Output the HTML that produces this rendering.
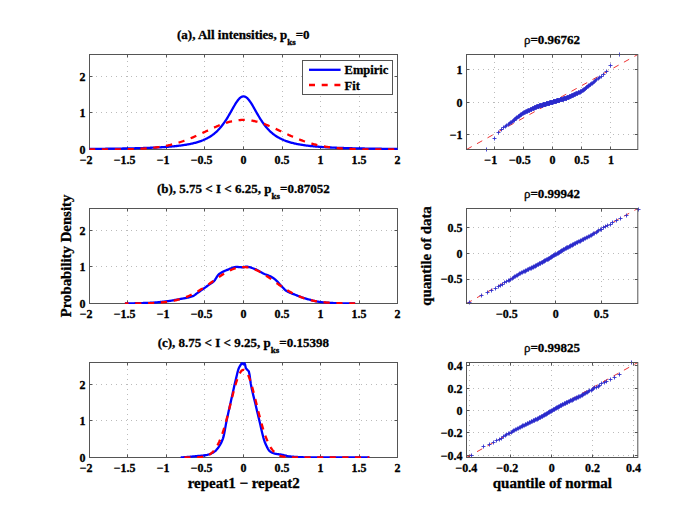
<!DOCTYPE html>
<html><head><meta charset="utf-8"><style>
html,body{margin:0;padding:0;background:#fff;}
svg{display:block;font-family:"Liberation Serif",serif;} text{stroke:#000;stroke-width:0.3px;}
</style></head><body>
<svg width="685" height="514" viewBox="0 0 685 514">
<rect width="685" height="514" fill="#fff"/>
<defs><clipPath id="cl0"><rect x="89.0" y="52.5" width="309.0" height="97.5"/></clipPath><clipPath id="cl1"><rect x="89.0" y="206.5" width="309.0" height="97.5"/></clipPath><clipPath id="cl2"><rect x="89.0" y="360.5" width="309.0" height="97.5"/></clipPath><clipPath id="cr0"><rect x="466.5" y="54.5" width="171.29999999999995" height="95.0"/></clipPath><clipPath id="cr1"><rect x="466.5" y="208.5" width="171.29999999999995" height="95.0"/></clipPath><clipPath id="cr2"><rect x="466.5" y="362.5" width="171.29999999999995" height="95.0"/></clipPath></defs>
<line x1="127.5" y1="149" x2="127.5" y2="55" stroke="#bbb" stroke-width="1" stroke-dasharray="1 4" stroke-dashoffset="-2"/>
<line x1="166.5" y1="149" x2="166.5" y2="55" stroke="#bbb" stroke-width="1" stroke-dasharray="1 4" stroke-dashoffset="-2"/>
<line x1="204.5" y1="149" x2="204.5" y2="55" stroke="#bbb" stroke-width="1" stroke-dasharray="1 4" stroke-dashoffset="-2"/>
<line x1="243.5" y1="149" x2="243.5" y2="55" stroke="#bbb" stroke-width="1" stroke-dasharray="1 4" stroke-dashoffset="-2"/>
<line x1="282.5" y1="149" x2="282.5" y2="55" stroke="#bbb" stroke-width="1" stroke-dasharray="1 4" stroke-dashoffset="-2"/>
<line x1="320.5" y1="149" x2="320.5" y2="55" stroke="#bbb" stroke-width="1" stroke-dasharray="1 4" stroke-dashoffset="-2"/>
<line x1="359.5" y1="149" x2="359.5" y2="55" stroke="#bbb" stroke-width="1" stroke-dasharray="1 4" stroke-dashoffset="-2"/>
<line x1="90" y1="112.5" x2="397" y2="112.5" stroke="#bbb" stroke-width="1" stroke-dasharray="1 4" stroke-dashoffset="-1"/>
<line x1="90" y1="76.5" x2="397" y2="76.5" stroke="#bbb" stroke-width="1" stroke-dasharray="1 4" stroke-dashoffset="-1"/>
<path d="M127.5 149.5v-3M127.5 54.5v3M166.5 149.5v-3M166.5 54.5v3M204.5 149.5v-3M204.5 54.5v3M243.5 149.5v-3M243.5 54.5v3M282.5 149.5v-3M282.5 54.5v3M320.5 149.5v-3M320.5 54.5v3M359.5 149.5v-3M359.5 54.5v3M89.5 112.5h3M397.5 112.5h-3M89.5 76.5h3M397.5 76.5h-3" stroke="#555" stroke-width="1" fill="none"/>
<text x="89.5" y="163.9" font-size="12" text-anchor="middle" font-weight="bold" >2</text>
<text x="86.5" y="163.9" font-size="12" text-anchor="end" font-weight="bold" >−</text>
<text x="128" y="163.9" font-size="12" text-anchor="middle" font-weight="bold" >1.5</text>
<text x="120.5" y="163.9" font-size="12" text-anchor="end" font-weight="bold" >−</text>
<text x="166.5" y="163.9" font-size="12" text-anchor="middle" font-weight="bold" >1</text>
<text x="163.5" y="163.9" font-size="12" text-anchor="end" font-weight="bold" >−</text>
<text x="205" y="163.9" font-size="12" text-anchor="middle" font-weight="bold" >0.5</text>
<text x="197.5" y="163.9" font-size="12" text-anchor="end" font-weight="bold" >−</text>
<text x="243.5" y="163.9" font-size="12" text-anchor="middle" font-weight="bold" >0</text>
<text x="282" y="163.9" font-size="12" text-anchor="middle" font-weight="bold" >0.5</text>
<text x="320.5" y="163.9" font-size="12" text-anchor="middle" font-weight="bold" >1</text>
<text x="359" y="163.9" font-size="12" text-anchor="middle" font-weight="bold" >1.5</text>
<text x="397.5" y="163.9" font-size="12" text-anchor="middle" font-weight="bold" >2</text>
<text x="85.5" y="153.9" font-size="12" text-anchor="end" font-weight="bold" >0</text>
<text x="85.5" y="117.36" font-size="12" text-anchor="end" font-weight="bold" >1</text>
<text x="85.5" y="80.82" font-size="12" text-anchor="end" font-weight="bold" >2</text>
<rect x="89.5" y="54.5" width="308" height="95" fill="none" stroke="#555" stroke-width="1"/>
<path d="M89.5 148.93 L90.27 148.92 L91.04 148.92 L91.82 148.91 L92.59 148.9 L93.36 148.9 L94.13 148.89 L94.9 148.88 L95.68 148.88 L96.45 148.87 L97.22 148.86 L97.99 148.85 L98.76 148.85 L99.54 148.84 L100.31 148.83 L101.08 148.82 L101.85 148.81 L102.62 148.81 L103.39 148.8 L104.17 148.79 L104.94 148.78 L105.71 148.77 L106.48 148.76 L107.25 148.75 L108.03 148.74 L108.8 148.73 L109.57 148.72 L110.34 148.71 L111.11 148.7 L111.89 148.69 L112.66 148.68 L113.43 148.67 L114.2 148.66 L114.97 148.65 L115.75 148.64 L116.52 148.62 L117.29 148.61 L118.06 148.6 L118.83 148.59 L119.61 148.58 L120.38 148.56 L121.15 148.55 L121.92 148.54 L122.69 148.52 L123.46 148.51 L124.24 148.49 L125.01 148.48 L125.78 148.46 L126.55 148.45 L127.32 148.43 L128.1 148.42 L128.87 148.4 L129.64 148.39 L130.41 148.37 L131.18 148.35 L131.96 148.33 L132.73 148.32 L133.5 148.3 L134.27 148.28 L135.04 148.26 L135.82 148.24 L136.59 148.22 L137.36 148.2 L138.13 148.18 L138.9 148.16 L139.68 148.13 L140.45 148.11 L141.22 148.09 L141.99 148.07 L142.76 148.04 L143.54 148.02 L144.31 147.99 L145.08 147.97 L145.85 147.94 L146.62 147.91 L147.39 147.88 L148.17 147.86 L148.94 147.83 L149.71 147.8 L150.48 147.76 L151.25 147.73 L152.03 147.7 L152.8 147.67 L153.57 147.63 L154.34 147.6 L155.11 147.56 L155.89 147.52 L156.66 147.49 L157.43 147.45 L158.2 147.41 L158.97 147.37 L159.75 147.32 L160.52 147.28 L161.29 147.24 L162.06 147.19 L162.83 147.14 L163.61 147.09 L164.38 147.04 L165.15 146.99 L165.92 146.94 L166.69 146.88 L167.46 146.83 L168.24 146.77 L169.01 146.71 L169.78 146.65 L170.55 146.58 L171.32 146.51 L172.1 146.45 L172.87 146.38 L173.64 146.3 L174.41 146.23 L175.18 146.15 L175.96 146.07 L176.73 145.99 L177.5 145.9 L178.27 145.81 L179.04 145.72 L179.82 145.63 L180.59 145.53 L181.36 145.43 L182.13 145.32 L182.9 145.21 L183.68 145.1 L184.45 144.98 L185.22 144.86 L185.99 144.74 L186.76 144.61 L187.54 144.47 L188.31 144.33 L189.08 144.18 L189.85 144.03 L190.62 143.87 L191.39 143.71 L192.17 143.54 L192.94 143.36 L193.71 143.17 L194.48 142.98 L195.25 142.78 L196.03 142.57 L196.8 142.35 L197.57 142.12 L198.34 141.88 L199.11 141.63 L199.89 141.37 L200.66 141.1 L201.43 140.82 L202.2 140.52 L202.97 140.22 L203.75 139.89 L204.52 139.55 L205.29 139.2 L206.06 138.83 L206.83 138.44 L207.61 138.03 L208.38 137.61 L209.15 137.16 L209.92 136.69 L210.69 136.2 L211.46 135.69 L212.24 135.15 L213.01 134.58 L213.78 133.99 L214.55 133.37 L215.32 132.72 L216.1 132.03 L216.87 131.32 L217.64 130.57 L218.41 129.78 L219.18 128.96 L219.96 128.1 L220.73 127.2 L221.5 126.26 L222.27 125.28 L223.04 124.26 L223.82 123.19 L224.59 122.09 L225.36 120.95 L226.13 119.76 L226.9 118.54 L227.68 117.28 L228.45 116 L229.22 114.68 L229.99 113.34 L230.76 111.98 L231.54 110.61 L232.31 109.24 L233.08 107.88 L233.85 106.54 L234.62 105.22 L235.39 103.95 L236.17 102.73 L236.94 101.58 L237.71 100.51 L238.48 99.54 L239.25 98.68 L240.03 97.94 L240.8 97.33 L241.57 96.86 L242.34 96.55 L243.11 96.39 L243.89 96.39 L244.66 96.55 L245.43 96.86 L246.2 97.33 L246.97 97.94 L247.75 98.68 L248.52 99.54 L249.29 100.51 L250.06 101.58 L250.83 102.73 L251.61 103.95 L252.38 105.22 L253.15 106.54 L253.92 107.88 L254.69 109.24 L255.46 110.61 L256.24 111.98 L257.01 113.34 L257.78 114.68 L258.55 116 L259.32 117.28 L260.1 118.54 L260.87 119.76 L261.64 120.95 L262.41 122.09 L263.18 123.19 L263.96 124.26 L264.73 125.28 L265.5 126.26 L266.27 127.2 L267.04 128.1 L267.82 128.96 L268.59 129.78 L269.36 130.57 L270.13 131.32 L270.9 132.03 L271.68 132.72 L272.45 133.37 L273.22 133.99 L273.99 134.58 L274.76 135.15 L275.54 135.69 L276.31 136.2 L277.08 136.69 L277.85 137.16 L278.62 137.61 L279.39 138.03 L280.17 138.44 L280.94 138.83 L281.71 139.2 L282.48 139.55 L283.25 139.89 L284.03 140.22 L284.8 140.52 L285.57 140.82 L286.34 141.1 L287.11 141.37 L287.89 141.63 L288.66 141.88 L289.43 142.12 L290.2 142.35 L290.97 142.57 L291.75 142.78 L292.52 142.98 L293.29 143.17 L294.06 143.36 L294.83 143.54 L295.61 143.71 L296.38 143.87 L297.15 144.03 L297.92 144.18 L298.69 144.33 L299.46 144.47 L300.24 144.61 L301.01 144.74 L301.78 144.86 L302.55 144.98 L303.32 145.1 L304.1 145.21 L304.87 145.32 L305.64 145.43 L306.41 145.53 L307.18 145.63 L307.96 145.72 L308.73 145.81 L309.5 145.9 L310.27 145.99 L311.04 146.07 L311.82 146.15 L312.59 146.23 L313.36 146.3 L314.13 146.38 L314.9 146.45 L315.68 146.51 L316.45 146.58 L317.22 146.65 L317.99 146.71 L318.76 146.77 L319.54 146.83 L320.31 146.88 L321.08 146.94 L321.85 146.99 L322.62 147.04 L323.39 147.09 L324.17 147.14 L324.94 147.19 L325.71 147.24 L326.48 147.28 L327.25 147.32 L328.03 147.37 L328.8 147.41 L329.57 147.45 L330.34 147.49 L331.11 147.52 L331.89 147.56 L332.66 147.6 L333.43 147.63 L334.2 147.67 L334.97 147.7 L335.75 147.73 L336.52 147.76 L337.29 147.8 L338.06 147.83 L338.83 147.86 L339.61 147.88 L340.38 147.91 L341.15 147.94 L341.92 147.97 L342.69 147.99 L343.46 148.02 L344.24 148.04 L345.01 148.07 L345.78 148.09 L346.55 148.11 L347.32 148.13 L348.1 148.16 L348.87 148.18 L349.64 148.2 L350.41 148.22 L351.18 148.24 L351.96 148.26 L352.73 148.28 L353.5 148.3 L354.27 148.32 L355.04 148.33 L355.82 148.35 L356.59 148.37 L357.36 148.39 L358.13 148.4 L358.9 148.42 L359.68 148.43 L360.45 148.45 L361.22 148.46 L361.99 148.48 L362.76 148.49 L363.54 148.51 L364.31 148.52 L365.08 148.54 L365.85 148.55 L366.62 148.56 L367.39 148.58 L368.17 148.59 L368.94 148.6 L369.71 148.61 L370.48 148.62 L371.25 148.64 L372.03 148.65 L372.8 148.66 L373.57 148.67 L374.34 148.68 L375.11 148.69 L375.89 148.7 L376.66 148.71 L377.43 148.72 L378.2 148.73 L378.97 148.74 L379.75 148.75 L380.52 148.76 L381.29 148.77 L382.06 148.78 L382.83 148.79 L383.61 148.8 L384.38 148.81 L385.15 148.81 L385.92 148.82 L386.69 148.83 L387.46 148.84 L388.24 148.85 L389.01 148.85 L389.78 148.86 L390.55 148.87 L391.32 148.88 L392.1 148.88 L392.87 148.89 L393.64 148.9 L394.41 148.9 L395.18 148.91 L395.96 148.92 L396.73 148.92 L397.5 148.93" stroke="#0000ff" stroke-width="2.3" fill="none" stroke-linejoin="round" clip-path="url(#cl0)"/>
<path d="M89.5 149.49 L90.27 149.49 L91.04 149.49 L91.82 149.49 L92.59 149.49 L93.36 149.49 L94.13 149.49 L94.9 149.49 L95.68 149.49 L96.45 149.48 L97.22 149.48 L97.99 149.48 L98.76 149.48 L99.54 149.48 L100.31 149.48 L101.08 149.47 L101.85 149.47 L102.62 149.47 L103.39 149.47 L104.17 149.47 L104.94 149.46 L105.71 149.46 L106.48 149.46 L107.25 149.45 L108.03 149.45 L108.8 149.45 L109.57 149.44 L110.34 149.44 L111.11 149.43 L111.89 149.43 L112.66 149.42 L113.43 149.42 L114.2 149.41 L114.97 149.41 L115.75 149.4 L116.52 149.39 L117.29 149.38 L118.06 149.38 L118.83 149.37 L119.61 149.36 L120.38 149.35 L121.15 149.34 L121.92 149.33 L122.69 149.31 L123.46 149.3 L124.24 149.29 L125.01 149.28 L125.78 149.26 L126.55 149.25 L127.32 149.23 L128.1 149.21 L128.87 149.19 L129.64 149.17 L130.41 149.15 L131.18 149.13 L131.96 149.11 L132.73 149.08 L133.5 149.06 L134.27 149.03 L135.04 149 L135.82 148.97 L136.59 148.94 L137.36 148.91 L138.13 148.88 L138.9 148.84 L139.68 148.8 L140.45 148.76 L141.22 148.72 L141.99 148.68 L142.76 148.63 L143.54 148.58 L144.31 148.53 L145.08 148.48 L145.85 148.42 L146.62 148.37 L147.39 148.31 L148.17 148.24 L148.94 148.18 L149.71 148.11 L150.48 148.04 L151.25 147.96 L152.03 147.89 L152.8 147.81 L153.57 147.72 L154.34 147.63 L155.11 147.54 L155.89 147.45 L156.66 147.35 L157.43 147.25 L158.2 147.14 L158.97 147.03 L159.75 146.92 L160.52 146.8 L161.29 146.68 L162.06 146.55 L162.83 146.42 L163.61 146.28 L164.38 146.14 L165.15 146 L165.92 145.85 L166.69 145.69 L167.46 145.53 L168.24 145.37 L169.01 145.2 L169.78 145.03 L170.55 144.85 L171.32 144.66 L172.1 144.47 L172.87 144.28 L173.64 144.08 L174.41 143.87 L175.18 143.66 L175.96 143.44 L176.73 143.22 L177.5 142.99 L178.27 142.76 L179.04 142.52 L179.82 142.27 L180.59 142.02 L181.36 141.77 L182.13 141.51 L182.9 141.24 L183.68 140.97 L184.45 140.7 L185.22 140.41 L185.99 140.13 L186.76 139.84 L187.54 139.54 L188.31 139.24 L189.08 138.93 L189.85 138.62 L190.62 138.3 L191.39 137.98 L192.17 137.66 L192.94 137.33 L193.71 137 L194.48 136.66 L195.25 136.32 L196.03 135.98 L196.8 135.63 L197.57 135.29 L198.34 134.93 L199.11 134.58 L199.89 134.22 L200.66 133.86 L201.43 133.5 L202.2 133.14 L202.97 132.78 L203.75 132.41 L204.52 132.05 L205.29 131.68 L206.06 131.32 L206.83 130.95 L207.61 130.59 L208.38 130.23 L209.15 129.86 L209.92 129.5 L210.69 129.14 L211.46 128.78 L212.24 128.43 L213.01 128.08 L213.78 127.73 L214.55 127.38 L215.32 127.04 L216.1 126.7 L216.87 126.37 L217.64 126.04 L218.41 125.72 L219.18 125.4 L219.96 125.09 L220.73 124.79 L221.5 124.49 L222.27 124.19 L223.04 123.91 L223.82 123.63 L224.59 123.36 L225.36 123.1 L226.13 122.85 L226.9 122.61 L227.68 122.37 L228.45 122.14 L229.22 121.93 L229.99 121.72 L230.76 121.53 L231.54 121.34 L232.31 121.16 L233.08 121 L233.85 120.85 L234.62 120.7 L235.39 120.57 L236.17 120.45 L236.94 120.34 L237.71 120.25 L238.48 120.16 L239.25 120.09 L240.03 120.03 L240.8 119.98 L241.57 119.94 L242.34 119.92 L243.11 119.9 L243.89 119.9 L244.66 119.92 L245.43 119.94 L246.2 119.98 L246.97 120.03 L247.75 120.09 L248.52 120.16 L249.29 120.25 L250.06 120.34 L250.83 120.45 L251.61 120.57 L252.38 120.7 L253.15 120.85 L253.92 121 L254.69 121.16 L255.46 121.34 L256.24 121.53 L257.01 121.72 L257.78 121.93 L258.55 122.14 L259.32 122.37 L260.1 122.61 L260.87 122.85 L261.64 123.1 L262.41 123.36 L263.18 123.63 L263.96 123.91 L264.73 124.19 L265.5 124.49 L266.27 124.79 L267.04 125.09 L267.82 125.4 L268.59 125.72 L269.36 126.04 L270.13 126.37 L270.9 126.7 L271.68 127.04 L272.45 127.38 L273.22 127.73 L273.99 128.08 L274.76 128.43 L275.54 128.78 L276.31 129.14 L277.08 129.5 L277.85 129.86 L278.62 130.23 L279.39 130.59 L280.17 130.95 L280.94 131.32 L281.71 131.68 L282.48 132.05 L283.25 132.41 L284.03 132.78 L284.8 133.14 L285.57 133.5 L286.34 133.86 L287.11 134.22 L287.89 134.58 L288.66 134.93 L289.43 135.29 L290.2 135.63 L290.97 135.98 L291.75 136.32 L292.52 136.66 L293.29 137 L294.06 137.33 L294.83 137.66 L295.61 137.98 L296.38 138.3 L297.15 138.62 L297.92 138.93 L298.69 139.24 L299.46 139.54 L300.24 139.84 L301.01 140.13 L301.78 140.41 L302.55 140.7 L303.32 140.97 L304.1 141.24 L304.87 141.51 L305.64 141.77 L306.41 142.02 L307.18 142.27 L307.96 142.52 L308.73 142.76 L309.5 142.99 L310.27 143.22 L311.04 143.44 L311.82 143.66 L312.59 143.87 L313.36 144.08 L314.13 144.28 L314.9 144.47 L315.68 144.66 L316.45 144.85 L317.22 145.03 L317.99 145.2 L318.76 145.37 L319.54 145.53 L320.31 145.69 L321.08 145.85 L321.85 146 L322.62 146.14 L323.39 146.28 L324.17 146.42 L324.94 146.55 L325.71 146.68 L326.48 146.8 L327.25 146.92 L328.03 147.03 L328.8 147.14 L329.57 147.25 L330.34 147.35 L331.11 147.45 L331.89 147.54 L332.66 147.63 L333.43 147.72 L334.2 147.81 L334.97 147.89 L335.75 147.96 L336.52 148.04 L337.29 148.11 L338.06 148.18 L338.83 148.24 L339.61 148.31 L340.38 148.37 L341.15 148.42 L341.92 148.48 L342.69 148.53 L343.46 148.58 L344.24 148.63 L345.01 148.68 L345.78 148.72 L346.55 148.76 L347.32 148.8 L348.1 148.84 L348.87 148.88 L349.64 148.91 L350.41 148.94 L351.18 148.97 L351.96 149 L352.73 149.03 L353.5 149.06 L354.27 149.08 L355.04 149.11 L355.82 149.13 L356.59 149.15 L357.36 149.17 L358.13 149.19 L358.9 149.21 L359.68 149.23 L360.45 149.25 L361.22 149.26 L361.99 149.28 L362.76 149.29 L363.54 149.3 L364.31 149.31 L365.08 149.33 L365.85 149.34 L366.62 149.35 L367.39 149.36 L368.17 149.37 L368.94 149.38 L369.71 149.38 L370.48 149.39 L371.25 149.4 L372.03 149.41 L372.8 149.41 L373.57 149.42 L374.34 149.42 L375.11 149.43 L375.89 149.43 L376.66 149.44 L377.43 149.44 L378.2 149.45 L378.97 149.45 L379.75 149.45 L380.52 149.46 L381.29 149.46 L382.06 149.46 L382.83 149.47 L383.61 149.47 L384.38 149.47 L385.15 149.47 L385.92 149.47 L386.69 149.48 L387.46 149.48 L388.24 149.48 L389.01 149.48 L389.78 149.48 L390.55 149.48 L391.32 149.49 L392.1 149.49 L392.87 149.49 L393.64 149.49 L394.41 149.49 L395.18 149.49 L395.96 149.49 L396.73 149.49 L397.5 149.49" stroke="#ff0000" stroke-width="2.3" fill="none" stroke-linejoin="round" stroke-dasharray="6.2 6.67" stroke-dashoffset="0.45" clip-path="url(#cl0)"/>
<line x1="127.5" y1="303" x2="127.5" y2="209" stroke="#bbb" stroke-width="1" stroke-dasharray="1 4" stroke-dashoffset="-2"/>
<line x1="166.5" y1="303" x2="166.5" y2="209" stroke="#bbb" stroke-width="1" stroke-dasharray="1 4" stroke-dashoffset="-2"/>
<line x1="204.5" y1="303" x2="204.5" y2="209" stroke="#bbb" stroke-width="1" stroke-dasharray="1 4" stroke-dashoffset="-2"/>
<line x1="243.5" y1="303" x2="243.5" y2="209" stroke="#bbb" stroke-width="1" stroke-dasharray="1 4" stroke-dashoffset="-2"/>
<line x1="282.5" y1="303" x2="282.5" y2="209" stroke="#bbb" stroke-width="1" stroke-dasharray="1 4" stroke-dashoffset="-2"/>
<line x1="320.5" y1="303" x2="320.5" y2="209" stroke="#bbb" stroke-width="1" stroke-dasharray="1 4" stroke-dashoffset="-2"/>
<line x1="359.5" y1="303" x2="359.5" y2="209" stroke="#bbb" stroke-width="1" stroke-dasharray="1 4" stroke-dashoffset="-2"/>
<line x1="90" y1="266.5" x2="397" y2="266.5" stroke="#bbb" stroke-width="1" stroke-dasharray="1 4" stroke-dashoffset="-1"/>
<line x1="90" y1="230.5" x2="397" y2="230.5" stroke="#bbb" stroke-width="1" stroke-dasharray="1 4" stroke-dashoffset="-1"/>
<path d="M127.5 303.5v-3M127.5 208.5v3M166.5 303.5v-3M166.5 208.5v3M204.5 303.5v-3M204.5 208.5v3M243.5 303.5v-3M243.5 208.5v3M282.5 303.5v-3M282.5 208.5v3M320.5 303.5v-3M320.5 208.5v3M359.5 303.5v-3M359.5 208.5v3M89.5 266.5h3M397.5 266.5h-3M89.5 230.5h3M397.5 230.5h-3" stroke="#555" stroke-width="1" fill="none"/>
<text x="89.5" y="317.9" font-size="12" text-anchor="middle" font-weight="bold" >2</text>
<text x="86.5" y="317.9" font-size="12" text-anchor="end" font-weight="bold" >−</text>
<text x="128" y="317.9" font-size="12" text-anchor="middle" font-weight="bold" >1.5</text>
<text x="120.5" y="317.9" font-size="12" text-anchor="end" font-weight="bold" >−</text>
<text x="166.5" y="317.9" font-size="12" text-anchor="middle" font-weight="bold" >1</text>
<text x="163.5" y="317.9" font-size="12" text-anchor="end" font-weight="bold" >−</text>
<text x="205" y="317.9" font-size="12" text-anchor="middle" font-weight="bold" >0.5</text>
<text x="197.5" y="317.9" font-size="12" text-anchor="end" font-weight="bold" >−</text>
<text x="243.5" y="317.9" font-size="12" text-anchor="middle" font-weight="bold" >0</text>
<text x="282" y="317.9" font-size="12" text-anchor="middle" font-weight="bold" >0.5</text>
<text x="320.5" y="317.9" font-size="12" text-anchor="middle" font-weight="bold" >1</text>
<text x="359" y="317.9" font-size="12" text-anchor="middle" font-weight="bold" >1.5</text>
<text x="397.5" y="317.9" font-size="12" text-anchor="middle" font-weight="bold" >2</text>
<text x="85.5" y="307.9" font-size="12" text-anchor="end" font-weight="bold" >0</text>
<text x="85.5" y="271.36" font-size="12" text-anchor="end" font-weight="bold" >1</text>
<text x="85.5" y="234.82" font-size="12" text-anchor="end" font-weight="bold" >2</text>
<rect x="89.5" y="208.5" width="308" height="95" fill="none" stroke="#555" stroke-width="1"/>
<path d="M124.92 303.5 L125.69 303.48 L126.46 303.47 L127.23 303.45 L128 303.43 L128.77 303.42 L129.54 303.4 L130.31 303.38 L131.08 303.36 L131.85 303.34 L132.62 303.32 L133.39 303.3 L134.16 303.28 L134.93 303.26 L135.7 303.24 L136.47 303.22 L137.24 303.2 L138.01 303.18 L138.78 303.16 L139.55 303.13 L140.32 303.11 L141.09 303.09 L141.86 303.07 L142.63 303.05 L143.4 303.02 L144.17 303 L144.94 302.98 L145.71 302.95 L146.48 302.93 L147.25 302.9 L148.02 302.87 L148.79 302.84 L149.56 302.8 L150.33 302.77 L151.1 302.73 L151.87 302.69 L152.64 302.64 L153.41 302.59 L154.18 302.54 L154.95 302.48 L155.72 302.42 L156.49 302.35 L157.26 302.29 L158.03 302.22 L158.8 302.15 L159.57 302.07 L160.34 301.99 L161.11 301.91 L161.88 301.83 L162.65 301.75 L163.42 301.66 L164.19 301.58 L164.96 301.49 L165.73 301.4 L166.5 301.31 L167.27 301.21 L168.04 301.11 L168.81 301.01 L169.58 300.89 L170.35 300.78 L171.12 300.65 L171.89 300.53 L172.66 300.4 L173.43 300.26 L174.2 300.13 L174.97 299.99 L175.74 299.85 L176.51 299.7 L177.28 299.56 L178.05 299.41 L178.82 299.26 L179.59 299.12 L180.36 298.97 L181.13 298.83 L181.9 298.7 L182.67 298.56 L183.44 298.43 L184.21 298.29 L184.98 298.15 L185.75 298.01 L186.52 297.86 L187.29 297.69 L188.06 297.52 L188.83 297.34 L189.6 297.15 L190.37 296.93 L191.14 296.71 L191.91 296.46 L192.68 296.19 L193.45 295.85 L194.22 295.4 L194.99 294.87 L195.76 294.29 L196.53 293.69 L197.3 293.1 L198.07 292.54 L198.84 292 L199.61 291.47 L200.38 290.92 L201.15 290.38 L201.92 289.84 L202.69 289.29 L203.46 288.74 L204.23 288.19 L205 287.63 L205.77 287.08 L206.54 286.52 L207.31 285.96 L208.08 285.42 L208.85 284.9 L209.62 284.4 L210.39 283.89 L211.16 283.37 L211.93 282.82 L212.7 282.22 L213.47 281.57 L214.24 280.85 L215.01 279.91 L215.78 278.73 L216.55 277.44 L217.32 276.18 L218.09 275.08 L218.86 274.27 L219.63 273.69 L220.4 273.16 L221.17 272.68 L221.94 272.24 L222.71 271.84 L223.48 271.47 L224.25 271.13 L225.02 270.8 L225.79 270.49 L226.56 270.19 L227.33 269.88 L228.1 269.57 L228.87 269.25 L229.64 268.92 L230.41 268.59 L231.18 268.27 L231.95 267.97 L232.72 267.69 L233.49 267.45 L234.26 267.25 L235.03 267.09 L235.8 267 L236.57 266.96 L237.34 266.97 L238.11 267.01 L238.88 267.06 L239.65 267.11 L240.42 267.17 L241.19 267.23 L241.96 267.28 L242.73 267.31 L243.5 267.33 L244.27 267.14 L245.04 266.79 L245.81 266.6 L246.58 266.63 L247.35 266.71 L248.12 266.84 L248.89 267.01 L249.66 267.22 L250.43 267.45 L251.2 267.7 L251.97 267.97 L252.74 268.24 L253.51 268.52 L254.28 268.79 L255.05 269.08 L255.82 269.41 L256.59 269.77 L257.36 270.17 L258.13 270.59 L258.9 271.02 L259.67 271.46 L260.44 271.9 L261.21 272.34 L261.98 272.76 L262.75 273.16 L263.52 273.54 L264.29 273.89 L265.06 274.21 L265.83 274.51 L266.6 274.81 L267.37 275.1 L268.14 275.4 L268.91 275.71 L269.68 276.04 L270.45 276.39 L271.22 276.77 L271.99 277.19 L272.76 277.67 L273.53 278.22 L274.3 278.83 L275.07 279.47 L275.84 280.15 L276.61 280.85 L277.38 281.59 L278.15 282.4 L278.92 283.26 L279.69 284.14 L280.46 285.03 L281.23 285.88 L282 286.69 L282.77 287.49 L283.54 288.31 L284.31 289.11 L285.08 289.86 L285.85 290.53 L286.62 291.08 L287.39 291.53 L288.16 291.94 L288.93 292.31 L289.7 292.66 L290.47 292.98 L291.24 293.29 L292.01 293.58 L292.78 293.86 L293.55 294.14 L294.32 294.43 L295.09 294.73 L295.86 295.04 L296.63 295.34 L297.4 295.65 L298.17 295.95 L298.94 296.25 L299.71 296.54 L300.48 296.83 L301.25 297.11 L302.02 297.39 L302.79 297.65 L303.56 297.91 L304.33 298.15 L305.1 298.38 L305.87 298.61 L306.64 298.84 L307.41 299.06 L308.18 299.29 L308.95 299.51 L309.72 299.73 L310.49 299.94 L311.26 300.16 L312.03 300.36 L312.8 300.56 L313.57 300.76 L314.34 300.94 L315.11 301.12 L315.88 301.28 L316.65 301.44 L317.42 301.59 L318.19 301.72 L318.96 301.84 L319.73 301.95 L320.5 302.04 L321.27 302.12 L322.04 302.2 L322.81 302.28 L323.58 302.35 L324.35 302.42 L325.12 302.49 L325.89 302.56 L326.66 302.62 L327.43 302.68 L328.2 302.74 L328.97 302.79 L329.74 302.84 L330.51 302.89 L331.28 302.93 L332.05 302.98 L332.82 303.01 L333.59 303.05 L334.36 303.08 L335.13 303.11 L335.9 303.13 L336.67 303.16 L337.44 303.18 L338.21 303.2 L338.98 303.23 L339.75 303.25 L340.52 303.27 L341.29 303.29 L342.06 303.31 L342.83 303.33 L343.6 303.35 L344.37 303.37 L345.14 303.38 L345.91 303.4 L346.68 303.41 L347.45 303.43 L348.22 303.44 L348.99 303.45 L349.76 303.46 L350.53 303.47 L351.3 303.48 L352.07 303.49 L352.84 303.49 L353.61 303.5 L354.38 303.5 L355.15 303.5" stroke="#0000ff" stroke-width="2.3" fill="none" stroke-linejoin="round" clip-path="url(#cl1)"/>
<path d="M124.92 303.48 L125.69 303.48 L126.46 303.47 L127.23 303.47 L128 303.47 L128.77 303.46 L129.54 303.46 L130.31 303.46 L131.08 303.45 L131.85 303.45 L132.62 303.44 L133.39 303.44 L134.16 303.43 L134.93 303.43 L135.7 303.42 L136.47 303.41 L137.24 303.41 L138.01 303.4 L138.78 303.39 L139.55 303.38 L140.32 303.37 L141.09 303.36 L141.86 303.34 L142.63 303.33 L143.4 303.31 L144.17 303.3 L144.94 303.28 L145.71 303.26 L146.48 303.24 L147.25 303.22 L148.02 303.2 L148.79 303.18 L149.56 303.15 L150.33 303.12 L151.1 303.1 L151.87 303.06 L152.64 303.03 L153.41 302.99 L154.18 302.96 L154.95 302.92 L155.72 302.87 L156.49 302.83 L157.26 302.78 L158.03 302.72 L158.8 302.67 L159.57 302.61 L160.34 302.55 L161.11 302.48 L161.88 302.41 L162.65 302.34 L163.42 302.26 L164.19 302.18 L164.96 302.09 L165.73 302 L166.5 301.9 L167.27 301.8 L168.04 301.69 L168.81 301.57 L169.58 301.45 L170.35 301.33 L171.12 301.2 L171.89 301.06 L172.66 300.91 L173.43 300.76 L174.2 300.6 L174.97 300.43 L175.74 300.26 L176.51 300.08 L177.28 299.89 L178.05 299.69 L178.82 299.48 L179.59 299.27 L180.36 299.04 L181.13 298.81 L181.9 298.57 L182.67 298.32 L183.44 298.06 L184.21 297.79 L184.98 297.51 L185.75 297.22 L186.52 296.92 L187.29 296.61 L188.06 296.29 L188.83 295.96 L189.6 295.62 L190.37 295.27 L191.14 294.91 L191.91 294.54 L192.68 294.16 L193.45 293.77 L194.22 293.37 L194.99 292.96 L195.76 292.54 L196.53 292.11 L197.3 291.67 L198.07 291.22 L198.84 290.76 L199.61 290.3 L200.38 289.82 L201.15 289.34 L201.92 288.85 L202.69 288.35 L203.46 287.85 L204.23 287.33 L205 286.82 L205.77 286.29 L206.54 285.76 L207.31 285.23 L208.08 284.69 L208.85 284.15 L209.62 283.6 L210.39 283.05 L211.16 282.5 L211.93 281.95 L212.7 281.4 L213.47 280.84 L214.24 280.29 L215.01 279.74 L215.78 279.19 L216.55 278.65 L217.32 278.11 L218.09 277.57 L218.86 277.04 L219.63 276.51 L220.4 275.99 L221.17 275.48 L221.94 274.98 L222.71 274.48 L223.48 274 L224.25 273.52 L225.02 273.06 L225.79 272.61 L226.56 272.17 L227.33 271.75 L228.1 271.34 L228.87 270.95 L229.64 270.57 L230.41 270.21 L231.18 269.86 L231.95 269.53 L232.72 269.22 L233.49 268.93 L234.26 268.66 L235.03 268.41 L235.8 268.18 L236.57 267.97 L237.34 267.78 L238.11 267.61 L238.88 267.47 L239.65 267.34 L240.42 267.24 L241.19 267.16 L241.96 267.1 L242.73 267.07 L243.5 267.06 L244.27 267.07 L245.04 267.1 L245.81 267.16 L246.58 267.24 L247.35 267.34 L248.12 267.47 L248.89 267.61 L249.66 267.78 L250.43 267.97 L251.2 268.18 L251.97 268.41 L252.74 268.66 L253.51 268.93 L254.28 269.22 L255.05 269.53 L255.82 269.86 L256.59 270.21 L257.36 270.57 L258.13 270.95 L258.9 271.34 L259.67 271.75 L260.44 272.17 L261.21 272.61 L261.98 273.06 L262.75 273.52 L263.52 274 L264.29 274.48 L265.06 274.98 L265.83 275.48 L266.6 275.99 L267.37 276.51 L268.14 277.04 L268.91 277.57 L269.68 278.11 L270.45 278.65 L271.22 279.19 L271.99 279.74 L272.76 280.29 L273.53 280.84 L274.3 281.4 L275.07 281.95 L275.84 282.5 L276.61 283.05 L277.38 283.6 L278.15 284.15 L278.92 284.69 L279.69 285.23 L280.46 285.76 L281.23 286.29 L282 286.82 L282.77 287.33 L283.54 287.85 L284.31 288.35 L285.08 288.85 L285.85 289.34 L286.62 289.82 L287.39 290.3 L288.16 290.76 L288.93 291.22 L289.7 291.67 L290.47 292.11 L291.24 292.54 L292.01 292.96 L292.78 293.37 L293.55 293.77 L294.32 294.16 L295.09 294.54 L295.86 294.91 L296.63 295.27 L297.4 295.62 L298.17 295.96 L298.94 296.29 L299.71 296.61 L300.48 296.92 L301.25 297.22 L302.02 297.51 L302.79 297.79 L303.56 298.06 L304.33 298.32 L305.1 298.57 L305.87 298.81 L306.64 299.04 L307.41 299.27 L308.18 299.48 L308.95 299.69 L309.72 299.89 L310.49 300.08 L311.26 300.26 L312.03 300.43 L312.8 300.6 L313.57 300.76 L314.34 300.91 L315.11 301.06 L315.88 301.2 L316.65 301.33 L317.42 301.45 L318.19 301.57 L318.96 301.69 L319.73 301.8 L320.5 301.9 L321.27 302 L322.04 302.09 L322.81 302.18 L323.58 302.26 L324.35 302.34 L325.12 302.41 L325.89 302.48 L326.66 302.55 L327.43 302.61 L328.2 302.67 L328.97 302.72 L329.74 302.78 L330.51 302.83 L331.28 302.87 L332.05 302.92 L332.82 302.96 L333.59 302.99 L334.36 303.03 L335.13 303.06 L335.9 303.1 L336.67 303.12 L337.44 303.15 L338.21 303.18 L338.98 303.2 L339.75 303.22 L340.52 303.24 L341.29 303.26 L342.06 303.28 L342.83 303.3 L343.6 303.31 L344.37 303.33 L345.14 303.34 L345.91 303.36 L346.68 303.37 L347.45 303.38 L348.22 303.39 L348.99 303.4 L349.76 303.41 L350.53 303.41 L351.3 303.42 L352.07 303.43 L352.84 303.43 L353.61 303.44 L354.38 303.44 L355.15 303.45" stroke="#ff0000" stroke-width="2.3" fill="none" stroke-linejoin="round" stroke-dasharray="6.2 6.67" stroke-dashoffset="2.57" clip-path="url(#cl1)"/>
<line x1="127.5" y1="457" x2="127.5" y2="363" stroke="#bbb" stroke-width="1" stroke-dasharray="1 4" stroke-dashoffset="-2"/>
<line x1="166.5" y1="457" x2="166.5" y2="363" stroke="#bbb" stroke-width="1" stroke-dasharray="1 4" stroke-dashoffset="-2"/>
<line x1="204.5" y1="457" x2="204.5" y2="363" stroke="#bbb" stroke-width="1" stroke-dasharray="1 4" stroke-dashoffset="-2"/>
<line x1="243.5" y1="457" x2="243.5" y2="363" stroke="#bbb" stroke-width="1" stroke-dasharray="1 4" stroke-dashoffset="-2"/>
<line x1="282.5" y1="457" x2="282.5" y2="363" stroke="#bbb" stroke-width="1" stroke-dasharray="1 4" stroke-dashoffset="-2"/>
<line x1="320.5" y1="457" x2="320.5" y2="363" stroke="#bbb" stroke-width="1" stroke-dasharray="1 4" stroke-dashoffset="-2"/>
<line x1="359.5" y1="457" x2="359.5" y2="363" stroke="#bbb" stroke-width="1" stroke-dasharray="1 4" stroke-dashoffset="-2"/>
<line x1="90" y1="420.5" x2="397" y2="420.5" stroke="#bbb" stroke-width="1" stroke-dasharray="1 4" stroke-dashoffset="-1"/>
<line x1="90" y1="384.5" x2="397" y2="384.5" stroke="#bbb" stroke-width="1" stroke-dasharray="1 4" stroke-dashoffset="-1"/>
<path d="M127.5 457.5v-3M127.5 362.5v3M166.5 457.5v-3M166.5 362.5v3M204.5 457.5v-3M204.5 362.5v3M243.5 457.5v-3M243.5 362.5v3M282.5 457.5v-3M282.5 362.5v3M320.5 457.5v-3M320.5 362.5v3M359.5 457.5v-3M359.5 362.5v3M89.5 420.5h3M397.5 420.5h-3M89.5 384.5h3M397.5 384.5h-3" stroke="#555" stroke-width="1" fill="none"/>
<text x="89.5" y="471.9" font-size="12" text-anchor="middle" font-weight="bold" >2</text>
<text x="86.5" y="471.9" font-size="12" text-anchor="end" font-weight="bold" >−</text>
<text x="128" y="471.9" font-size="12" text-anchor="middle" font-weight="bold" >1.5</text>
<text x="120.5" y="471.9" font-size="12" text-anchor="end" font-weight="bold" >−</text>
<text x="166.5" y="471.9" font-size="12" text-anchor="middle" font-weight="bold" >1</text>
<text x="163.5" y="471.9" font-size="12" text-anchor="end" font-weight="bold" >−</text>
<text x="205" y="471.9" font-size="12" text-anchor="middle" font-weight="bold" >0.5</text>
<text x="197.5" y="471.9" font-size="12" text-anchor="end" font-weight="bold" >−</text>
<text x="243.5" y="471.9" font-size="12" text-anchor="middle" font-weight="bold" >0</text>
<text x="282" y="471.9" font-size="12" text-anchor="middle" font-weight="bold" >0.5</text>
<text x="320.5" y="471.9" font-size="12" text-anchor="middle" font-weight="bold" >1</text>
<text x="359" y="471.9" font-size="12" text-anchor="middle" font-weight="bold" >1.5</text>
<text x="397.5" y="471.9" font-size="12" text-anchor="middle" font-weight="bold" >2</text>
<text x="85.5" y="461.9" font-size="12" text-anchor="end" font-weight="bold" >0</text>
<text x="85.5" y="425.36" font-size="12" text-anchor="end" font-weight="bold" >1</text>
<text x="85.5" y="388.82" font-size="12" text-anchor="end" font-weight="bold" >2</text>
<rect x="89.5" y="362.5" width="308" height="95" fill="none" stroke="#555" stroke-width="1"/>
<path d="M180.75 457.5 L181.38 457.45 L182.01 457.4 L182.64 457.35 L183.27 457.3 L183.9 457.25 L184.53 457.2 L185.16 457.15 L185.79 457.1 L186.42 457.04 L187.05 456.99 L187.69 456.94 L188.32 456.88 L188.95 456.83 L189.58 456.77 L190.21 456.71 L190.84 456.66 L191.47 456.6 L192.1 456.54 L192.73 456.48 L193.36 456.42 L193.99 456.36 L194.63 456.3 L195.26 456.23 L195.89 456.17 L196.52 456.11 L197.15 456.05 L197.78 455.99 L198.41 455.94 L199.04 455.89 L199.67 455.84 L200.3 455.79 L200.93 455.74 L201.57 455.69 L202.2 455.63 L202.83 455.57 L203.46 455.5 L204.09 455.43 L204.72 455.35 L205.35 455.25 L205.98 455.14 L206.61 455 L207.24 454.85 L207.88 454.68 L208.51 454.49 L209.14 454.29 L209.77 454.07 L210.4 453.84 L211.03 453.6 L211.66 453.32 L212.29 453.01 L212.92 452.67 L213.55 452.3 L214.18 451.88 L214.82 451.43 L215.45 450.93 L216.08 450.32 L216.71 449.61 L217.34 448.83 L217.97 447.98 L218.6 447.09 L219.23 446.15 L219.86 445.15 L220.49 444.07 L221.12 442.88 L221.76 441.54 L222.39 440.05 L223.02 438.36 L223.65 436.18 L224.28 433.27 L224.91 429.89 L225.54 426.34 L226.17 422.9 L226.8 419.81 L227.43 416.87 L228.07 413.97 L228.7 411.11 L229.33 408.28 L229.96 405.46 L230.59 402.66 L231.22 399.85 L231.85 397.02 L232.48 394.17 L233.11 391.29 L233.74 388.43 L234.37 385.61 L235.01 382.85 L235.64 380.19 L236.27 377.61 L236.9 374.95 L237.53 372.34 L238.16 370.01 L238.79 368.18 L239.42 366.94 L240.05 365.97 L240.68 364.97 L241.31 363.82 L241.95 363.23 L242.58 363.62 L243.21 364.22 L243.84 364.1 L244.47 363.31 L245.1 364.61 L245.73 367.79 L246.36 368.8 L246.99 369.43 L247.62 370.1 L248.26 370.72 L248.89 371.63 L249.52 374.47 L250.15 379.22 L250.78 383.78 L251.41 387.05 L252.04 390.01 L252.67 392.75 L253.3 395.36 L253.93 397.9 L254.56 400.44 L255.2 403.06 L255.83 405.75 L256.46 408.45 L257.09 411.14 L257.72 413.81 L258.35 416.46 L258.98 419.08 L259.61 421.67 L260.24 424.36 L260.87 427.14 L261.5 429.94 L262.14 432.69 L262.77 435.31 L263.4 437.74 L264.03 439.9 L264.66 441.73 L265.29 443.26 L265.92 444.71 L266.55 446.1 L267.18 447.39 L267.81 448.56 L268.45 449.6 L269.08 450.48 L269.71 451.18 L270.34 451.68 L270.97 452.06 L271.6 452.41 L272.23 452.71 L272.86 452.98 L273.49 453.21 L274.12 453.42 L274.75 453.6 L275.39 453.75 L276.02 453.88 L276.65 453.99 L277.28 454.08 L277.91 454.16 L278.54 454.24 L279.17 454.31 L279.8 454.38 L280.43 454.46 L281.06 454.55 L281.69 454.66 L282.33 454.78 L282.96 454.93 L283.59 455.08 L284.22 455.24 L284.85 455.4 L285.48 455.56 L286.11 455.72 L286.74 455.88 L287.37 456.02 L288 456.15 L288.64 456.26 L289.27 456.35 L289.9 456.42 L290.53 456.48 L291.16 456.54 L291.79 456.6 L292.42 456.65 L293.05 456.71 L293.68 456.76 L294.31 456.8 L294.94 456.85 L295.58 456.9 L296.21 456.94 L296.84 456.98 L297.47 457.02 L298.1 457.05 L298.73 457.09 L299.36 457.12 L299.99 457.15 L300.62 457.18 L301.25 457.2 L301.88 457.23 L302.52 457.25 L303.15 457.27 L303.78 457.29 L304.41 457.3 L305.04 457.32 L305.67 457.33 L306.3 457.34 L306.93 457.35 L307.56 457.36 L308.19 457.38 L308.83 457.39 L309.46 457.4 L310.09 457.41 L310.72 457.42 L311.35 457.43 L311.98 457.44 L312.61 457.44 L313.24 457.45 L313.87 457.46 L314.5 457.47 L315.13 457.47 L315.77 457.48 L316.4 457.48 L317.03 457.49 L317.66 457.49 L318.29 457.5 L318.92 457.5 L319.55 457.5 L320.18 457.5 L320.81 457.5 L321.44 457.5 L322.07 457.5 L322.71 457.5 L323.34 457.5 L323.97 457.5 L324.6 457.5 L325.23 457.5 L325.86 457.5 L326.49 457.5 L327.12 457.5 L327.75 457.5 L328.38 457.5 L329.02 457.5 L329.65 457.5 L330.28 457.5 L330.91 457.5 L331.54 457.5 L332.17 457.5 L332.8 457.5 L333.43 457.5 L334.06 457.5 L334.69 457.5 L335.32 457.5 L335.96 457.5 L336.59 457.5 L337.22 457.5 L337.85 457.5 L338.48 457.5 L339.11 457.5 L339.74 457.5 L340.37 457.5 L341 457.5 L341.63 457.5 L342.26 457.5 L342.9 457.5 L343.53 457.5 L344.16 457.5 L344.79 457.5 L345.42 457.5 L346.05 457.5 L346.68 457.5 L347.31 457.5 L347.94 457.5 L348.57 457.5 L349.21 457.5 L349.84 457.5 L350.47 457.5 L351.1 457.5 L351.73 457.5 L352.36 457.5 L352.99 457.5 L353.62 457.5 L354.25 457.5 L354.88 457.5 L355.51 457.5 L356.15 457.5 L356.78 457.5 L357.41 457.5 L358.04 457.5 L358.67 457.5 L359.3 457.5 L359.93 457.5 L360.56 457.5 L361.19 457.5 L361.82 457.5 L362.45 457.5 L363.09 457.5 L363.72 457.5 L364.35 457.5 L364.98 457.5 L365.61 457.5 L366.24 457.5 L366.87 457.5 L367.5 457.5 L368.13 457.5 L368.76 457.5 L369.39 457.5" stroke="#0000ff" stroke-width="2.3" fill="none" stroke-linejoin="round" clip-path="url(#cl2)"/>
<path d="M180.75 457.5 L181.38 457.5 L182.01 457.5 L182.64 457.5 L183.27 457.5 L183.9 457.5 L184.53 457.5 L185.16 457.5 L185.79 457.49 L186.42 457.49 L187.05 457.49 L187.69 457.49 L188.32 457.49 L188.95 457.49 L189.58 457.48 L190.21 457.48 L190.84 457.47 L191.47 457.47 L192.1 457.46 L192.73 457.45 L193.36 457.44 L193.99 457.43 L194.63 457.42 L195.26 457.4 L195.89 457.38 L196.52 457.36 L197.15 457.33 L197.78 457.3 L198.41 457.27 L199.04 457.23 L199.67 457.18 L200.3 457.12 L200.93 457.06 L201.57 456.98 L202.2 456.9 L202.83 456.8 L203.46 456.69 L204.09 456.56 L204.72 456.41 L205.35 456.24 L205.98 456.06 L206.61 455.85 L207.24 455.61 L207.88 455.34 L208.51 455.04 L209.14 454.7 L209.77 454.33 L210.4 453.92 L211.03 453.46 L211.66 452.95 L212.29 452.39 L212.92 451.77 L213.55 451.1 L214.18 450.36 L214.82 449.55 L215.45 448.68 L216.08 447.73 L216.71 446.7 L217.34 445.6 L217.97 444.41 L218.6 443.13 L219.23 441.77 L219.86 440.32 L220.49 438.78 L221.12 437.15 L221.76 435.43 L222.39 433.62 L223.02 431.72 L223.65 429.73 L224.28 427.66 L224.91 425.51 L225.54 423.28 L226.17 420.99 L226.8 418.63 L227.43 416.21 L228.07 413.74 L228.7 411.24 L229.33 408.7 L229.96 406.15 L230.59 403.58 L231.22 401.03 L231.85 398.48 L232.48 395.97 L233.11 393.49 L233.74 391.07 L234.37 388.72 L235.01 386.46 L235.64 384.29 L236.27 382.22 L236.9 380.28 L237.53 378.47 L238.16 376.81 L238.79 375.3 L239.42 373.96 L240.05 372.8 L240.68 371.81 L241.31 371.02 L241.95 370.42 L242.58 370.03 L243.21 369.83 L243.84 369.84 L244.47 370.05 L245.1 370.46 L245.73 371.07 L246.36 371.88 L246.99 372.88 L247.62 374.05 L248.26 375.41 L248.89 376.93 L249.52 378.6 L250.15 380.42 L250.78 382.37 L251.41 384.44 L252.04 386.62 L252.67 388.89 L253.3 391.25 L253.93 393.67 L254.56 396.15 L255.2 398.67 L255.83 401.21 L256.46 403.77 L257.09 406.34 L257.72 408.89 L258.35 411.42 L258.98 413.93 L259.61 416.39 L260.24 418.8 L260.87 421.16 L261.5 423.45 L262.14 425.67 L262.77 427.82 L263.4 429.88 L264.03 431.86 L264.66 433.76 L265.29 435.56 L265.92 437.28 L266.55 438.9 L267.18 440.43 L267.81 441.88 L268.45 443.23 L269.08 444.5 L269.71 445.68 L270.34 446.78 L270.97 447.8 L271.6 448.74 L272.23 449.61 L272.86 450.41 L273.49 451.15 L274.12 451.82 L274.75 452.43 L275.39 452.99 L276.02 453.49 L276.65 453.95 L277.28 454.36 L277.91 454.73 L278.54 455.06 L279.17 455.36 L279.8 455.63 L280.43 455.86 L281.06 456.07 L281.69 456.26 L282.33 456.42 L282.96 456.57 L283.59 456.69 L284.22 456.81 L284.85 456.9 L285.48 456.99 L286.11 457.06 L286.74 457.13 L287.37 457.18 L288 457.23 L288.64 457.27 L289.27 457.31 L289.9 457.34 L290.53 457.36 L291.16 457.38 L291.79 457.4 L292.42 457.42 L293.05 457.43 L293.68 457.44 L294.31 457.45 L294.94 457.46 L295.58 457.47 L296.21 457.47 L296.84 457.48 L297.47 457.48 L298.1 457.49 L298.73 457.49 L299.36 457.49 L299.99 457.49 L300.62 457.49 L301.25 457.49 L301.88 457.5 L302.52 457.5 L303.15 457.5 L303.78 457.5 L304.41 457.5 L305.04 457.5 L305.67 457.5 L306.3 457.5 L306.93 457.5 L307.56 457.5 L308.19 457.5 L308.83 457.5 L309.46 457.5 L310.09 457.5 L310.72 457.5 L311.35 457.5 L311.98 457.5 L312.61 457.5 L313.24 457.5 L313.87 457.5 L314.5 457.5 L315.13 457.5 L315.77 457.5 L316.4 457.5 L317.03 457.5 L317.66 457.5 L318.29 457.5 L318.92 457.5 L319.55 457.5 L320.18 457.5 L320.81 457.5 L321.44 457.5 L322.07 457.5 L322.71 457.5 L323.34 457.5 L323.97 457.5 L324.6 457.5 L325.23 457.5 L325.86 457.5 L326.49 457.5 L327.12 457.5 L327.75 457.5 L328.38 457.5 L329.02 457.5 L329.65 457.5 L330.28 457.5 L330.91 457.5 L331.54 457.5 L332.17 457.5 L332.8 457.5 L333.43 457.5 L334.06 457.5 L334.69 457.5 L335.32 457.5 L335.96 457.5 L336.59 457.5 L337.22 457.5 L337.85 457.5 L338.48 457.5 L339.11 457.5 L339.74 457.5 L340.37 457.5 L341 457.5 L341.63 457.5 L342.26 457.5 L342.9 457.5 L343.53 457.5 L344.16 457.5 L344.79 457.5 L345.42 457.5 L346.05 457.5 L346.68 457.5 L347.31 457.5 L347.94 457.5 L348.57 457.5 L349.21 457.5 L349.84 457.5 L350.47 457.5 L351.1 457.5 L351.73 457.5 L352.36 457.5 L352.99 457.5 L353.62 457.5 L354.25 457.5 L354.88 457.5 L355.51 457.5 L356.15 457.5 L356.78 457.5 L357.41 457.5 L358.04 457.5 L358.67 457.5 L359.3 457.5 L359.93 457.5 L360.56 457.5 L361.19 457.5 L361.82 457.5 L362.45 457.5 L363.09 457.5 L363.72 457.5 L364.35 457.5 L364.98 457.5 L365.61 457.5 L366.24 457.5 L366.87 457.5 L367.5 457.5 L368.13 457.5 L368.76 457.5 L369.39 457.5" stroke="#ff0000" stroke-width="2.3" fill="none" stroke-linejoin="round" stroke-dasharray="6.2 6.4" stroke-dashoffset="8.98" clip-path="url(#cl2)"/>
<line x1="494.5" y1="149" x2="494.5" y2="55" stroke="#bbb" stroke-width="1" stroke-dasharray="1 4" stroke-dashoffset="-1"/>
<line x1="523.5" y1="149" x2="523.5" y2="55" stroke="#bbb" stroke-width="1" stroke-dasharray="1 4" stroke-dashoffset="-1"/>
<line x1="552.5" y1="149" x2="552.5" y2="55" stroke="#bbb" stroke-width="1" stroke-dasharray="1 4" stroke-dashoffset="-1"/>
<line x1="581.5" y1="149" x2="581.5" y2="55" stroke="#bbb" stroke-width="1" stroke-dasharray="1 4" stroke-dashoffset="-1"/>
<line x1="610.5" y1="149" x2="610.5" y2="55" stroke="#bbb" stroke-width="1" stroke-dasharray="1 4" stroke-dashoffset="-1"/>
<line x1="467" y1="134.5" x2="637" y2="134.5" stroke="#bbb" stroke-width="1" stroke-dasharray="1 4" stroke-dashoffset="-1"/>
<line x1="467" y1="102.5" x2="637" y2="102.5" stroke="#bbb" stroke-width="1" stroke-dasharray="1 4" stroke-dashoffset="-1"/>
<line x1="467" y1="69.5" x2="637" y2="69.5" stroke="#bbb" stroke-width="1" stroke-dasharray="1 4" stroke-dashoffset="-1"/>
<path d="M494.5 149.5v-3M494.5 54.5v3M523.5 149.5v-3M523.5 54.5v3M552.5 149.5v-3M552.5 54.5v3M581.5 149.5v-3M581.5 54.5v3M610.5 149.5v-3M610.5 54.5v3M466.5 134.5h3M637.8 134.5h-3M466.5 102.5h3M637.8 102.5h-3M466.5 69.5h3M637.8 69.5h-3" stroke="#555" stroke-width="1" fill="none"/>
<text x="494.13" y="163.9" font-size="12" text-anchor="middle" font-weight="bold" >1</text>
<text x="491.13" y="163.9" font-size="12" text-anchor="end" font-weight="bold" >−</text>
<text x="523.33" y="163.9" font-size="12" text-anchor="middle" font-weight="bold" >0.5</text>
<text x="515.83" y="163.9" font-size="12" text-anchor="end" font-weight="bold" >−</text>
<text x="552.53" y="163.9" font-size="12" text-anchor="middle" font-weight="bold" >0</text>
<text x="581.73" y="163.9" font-size="12" text-anchor="middle" font-weight="bold" >0.5</text>
<text x="610.93" y="163.9" font-size="12" text-anchor="middle" font-weight="bold" >1</text>
<text x="462.5" y="138.99" font-size="12" text-anchor="end" font-weight="bold" >−1</text>
<text x="462.5" y="106.56" font-size="12" text-anchor="end" font-weight="bold" >0</text>
<text x="462.5" y="74.14" font-size="12" text-anchor="end" font-weight="bold" >1</text>
<line x1="466.5" y1="149.5" x2="637.8" y2="54.5" stroke="#ee3333" stroke-width="1" stroke-dasharray="6 6" clip-path="url(#cr0)"/>
<path d="M484.5 149.5h4M486.5 147.5v4M492.5 138.5h4M494.5 136.5v4M496.5 132.5h4M498.5 130.5v4M499.5 129.5h4M501.5 127.5v4M501.5 127.5h4M503.5 125.5v4M503.5 126.5h4M505.5 124.5v4M504.5 125.5h4M506.5 123.5v4M506.5 124.5h4M508.5 122.5v4M507.5 123.5h4M509.5 121.5v4M508.5 122.5h4M510.5 120.5v4M509.5 122.5h4M511.5 120.5v4M510.5 121.5h4M512.5 119.5v4M511.5 120.5h4M513.5 118.5v4M512.5 120.5h4M514.5 118.5v4M512.5 119.5h4M514.5 117.5v4M513.5 118.5h4M515.5 116.5v4M514.5 118.5h4M516.5 116.5v4M514.5 117.5h4M516.5 115.5v4M515.5 117.5h4M517.5 115.5v4M516.5 116.5h4M518.5 114.5v4M516.5 116.5h4M518.5 114.5v4M517.5 116.5h4M519.5 114.5v4M517.5 115.5h4M519.5 113.5v4M518.5 115.5h4M520.5 113.5v4M518.5 114.5h4M520.5 112.5v4M519.5 114.5h4M521.5 112.5v4M519.5 114.5h4M521.5 112.5v4M520.5 113.5h4M522.5 111.5v4M520.5 113.5h4M522.5 111.5v4M521.5 113.5h4M523.5 111.5v4M521.5 112.5h4M523.5 110.5v4M522.5 112.5h4M524.5 110.5v4M522.5 112.5h4M524.5 110.5v4M522.5 112.5h4M524.5 110.5v4M523.5 112.5h4M525.5 110.5v4M523.5 111.5h4M525.5 109.5v4M524.5 111.5h4M526.5 109.5v4M524.5 111.5h4M526.5 109.5v4M524.5 111.5h4M526.5 109.5v4M525.5 111.5h4M527.5 109.5v4M525.5 111.5h4M527.5 109.5v4M525.5 110.5h4M527.5 108.5v4M526.5 110.5h4M528.5 108.5v4M526.5 110.5h4M528.5 108.5v4M526.5 110.5h4M528.5 108.5v4M527.5 110.5h4M529.5 108.5v4M527.5 110.5h4M529.5 108.5v4M527.5 110.5h4M529.5 108.5v4M528.5 109.5h4M530.5 107.5v4M528.5 109.5h4M530.5 107.5v4M528.5 109.5h4M530.5 107.5v4M529.5 109.5h4M531.5 107.5v4M529.5 109.5h4M531.5 107.5v4M529.5 109.5h4M531.5 107.5v4M529.5 109.5h4M531.5 107.5v4M530.5 108.5h4M532.5 106.5v4M530.5 108.5h4M532.5 106.5v4M530.5 108.5h4M532.5 106.5v4M531.5 108.5h4M533.5 106.5v4M531.5 108.5h4M533.5 106.5v4M531.5 108.5h4M533.5 106.5v4M531.5 108.5h4M533.5 106.5v4M532.5 108.5h4M534.5 106.5v4M532.5 107.5h4M534.5 105.5v4M532.5 107.5h4M534.5 105.5v4M532.5 107.5h4M534.5 105.5v4M533.5 107.5h4M535.5 105.5v4M533.5 107.5h4M535.5 105.5v4M533.5 107.5h4M535.5 105.5v4M533.5 107.5h4M535.5 105.5v4M534.5 107.5h4M536.5 105.5v4M534.5 107.5h4M536.5 105.5v4M534.5 106.5h4M536.5 104.5v4M534.5 106.5h4M536.5 104.5v4M535.5 106.5h4M537.5 104.5v4M535.5 106.5h4M537.5 104.5v4M535.5 106.5h4M537.5 104.5v4M535.5 106.5h4M537.5 104.5v4M536.5 106.5h4M538.5 104.5v4M536.5 106.5h4M538.5 104.5v4M536.5 106.5h4M538.5 104.5v4M536.5 106.5h4M538.5 104.5v4M536.5 106.5h4M538.5 104.5v4M537.5 106.5h4M539.5 104.5v4M537.5 105.5h4M539.5 103.5v4M537.5 105.5h4M539.5 103.5v4M537.5 105.5h4M539.5 103.5v4M538.5 105.5h4M540.5 103.5v4M538.5 105.5h4M540.5 103.5v4M538.5 105.5h4M540.5 103.5v4M538.5 105.5h4M540.5 103.5v4M538.5 105.5h4M540.5 103.5v4M539.5 105.5h4M541.5 103.5v4M539.5 105.5h4M541.5 103.5v4M539.5 105.5h4M541.5 103.5v4M539.5 105.5h4M541.5 103.5v4M540.5 105.5h4M542.5 103.5v4M540.5 105.5h4M542.5 103.5v4M540.5 105.5h4M542.5 103.5v4M540.5 105.5h4M542.5 103.5v4M540.5 104.5h4M542.5 102.5v4M541.5 104.5h4M543.5 102.5v4M541.5 104.5h4M543.5 102.5v4M541.5 104.5h4M543.5 102.5v4M541.5 104.5h4M543.5 102.5v4M541.5 104.5h4M543.5 102.5v4M542.5 104.5h4M544.5 102.5v4M542.5 104.5h4M544.5 102.5v4M542.5 104.5h4M544.5 102.5v4M542.5 104.5h4M544.5 102.5v4M542.5 104.5h4M544.5 102.5v4M543.5 104.5h4M545.5 102.5v4M543.5 104.5h4M545.5 102.5v4M543.5 104.5h4M545.5 102.5v4M543.5 104.5h4M545.5 102.5v4M543.5 104.5h4M545.5 102.5v4M544.5 104.5h4M546.5 102.5v4M544.5 103.5h4M546.5 101.5v4M544.5 103.5h4M546.5 101.5v4M544.5 103.5h4M546.5 101.5v4M544.5 103.5h4M546.5 101.5v4M545.5 103.5h4M547.5 101.5v4M545.5 103.5h4M547.5 101.5v4M545.5 103.5h4M547.5 101.5v4M545.5 103.5h4M547.5 101.5v4M545.5 103.5h4M547.5 101.5v4M546.5 103.5h4M548.5 101.5v4M546.5 103.5h4M548.5 101.5v4M546.5 103.5h4M548.5 101.5v4M546.5 103.5h4M548.5 101.5v4M546.5 103.5h4M548.5 101.5v4M547.5 103.5h4M549.5 101.5v4M547.5 103.5h4M549.5 101.5v4M547.5 103.5h4M549.5 101.5v4M547.5 103.5h4M549.5 101.5v4M547.5 102.5h4M549.5 100.5v4M547.5 102.5h4M549.5 100.5v4M548.5 102.5h4M550.5 100.5v4M548.5 102.5h4M550.5 100.5v4M548.5 102.5h4M550.5 100.5v4M548.5 102.5h4M550.5 100.5v4M548.5 102.5h4M550.5 100.5v4M549.5 102.5h4M551.5 100.5v4M549.5 102.5h4M551.5 100.5v4M549.5 102.5h4M551.5 100.5v4M549.5 102.5h4M551.5 100.5v4M549.5 102.5h4M551.5 100.5v4M550.5 102.5h4M552.5 100.5v4M550.5 102.5h4M552.5 100.5v4M550.5 102.5h4M552.5 100.5v4M550.5 102.5h4M552.5 100.5v4M550.5 102.5h4M552.5 100.5v4M551.5 102.5h4M553.5 100.5v4M551.5 101.5h4M553.5 99.5v4M551.5 101.5h4M553.5 99.5v4M551.5 101.5h4M553.5 99.5v4M551.5 101.5h4M553.5 99.5v4M551.5 101.5h4M553.5 99.5v4M552.5 101.5h4M554.5 99.5v4M552.5 101.5h4M554.5 99.5v4M552.5 101.5h4M554.5 99.5v4M552.5 101.5h4M554.5 99.5v4M552.5 101.5h4M554.5 99.5v4M553.5 101.5h4M555.5 99.5v4M553.5 101.5h4M555.5 99.5v4M553.5 101.5h4M555.5 99.5v4M553.5 101.5h4M555.5 99.5v4M553.5 101.5h4M555.5 99.5v4M554.5 101.5h4M556.5 99.5v4M554.5 101.5h4M556.5 99.5v4M554.5 101.5h4M556.5 99.5v4M554.5 100.5h4M556.5 98.5v4M554.5 100.5h4M556.5 98.5v4M555.5 100.5h4M557.5 98.5v4M555.5 100.5h4M557.5 98.5v4M555.5 100.5h4M557.5 98.5v4M555.5 100.5h4M557.5 98.5v4M555.5 100.5h4M557.5 98.5v4M555.5 100.5h4M557.5 98.5v4M556.5 100.5h4M558.5 98.5v4M556.5 100.5h4M558.5 98.5v4M556.5 100.5h4M558.5 98.5v4M556.5 100.5h4M558.5 98.5v4M556.5 100.5h4M558.5 98.5v4M557.5 100.5h4M559.5 98.5v4M557.5 100.5h4M559.5 98.5v4M557.5 100.5h4M559.5 98.5v4M557.5 100.5h4M559.5 98.5v4M557.5 100.5h4M559.5 98.5v4M558.5 99.5h4M560.5 97.5v4M558.5 99.5h4M560.5 97.5v4M558.5 99.5h4M560.5 97.5v4M558.5 99.5h4M560.5 97.5v4M558.5 99.5h4M560.5 97.5v4M559.5 99.5h4M561.5 97.5v4M559.5 99.5h4M561.5 97.5v4M559.5 99.5h4M561.5 97.5v4M559.5 99.5h4M561.5 97.5v4M559.5 99.5h4M561.5 97.5v4M560.5 99.5h4M562.5 97.5v4M560.5 99.5h4M562.5 97.5v4M560.5 99.5h4M562.5 97.5v4M560.5 99.5h4M562.5 97.5v4M561.5 99.5h4M563.5 97.5v4M561.5 99.5h4M563.5 97.5v4M561.5 99.5h4M563.5 97.5v4M561.5 98.5h4M563.5 96.5v4M561.5 98.5h4M563.5 96.5v4M562.5 98.5h4M564.5 96.5v4M562.5 98.5h4M564.5 96.5v4M562.5 98.5h4M564.5 96.5v4M562.5 98.5h4M564.5 96.5v4M562.5 98.5h4M564.5 96.5v4M563.5 98.5h4M565.5 96.5v4M563.5 98.5h4M565.5 96.5v4M563.5 98.5h4M565.5 96.5v4M563.5 98.5h4M565.5 96.5v4M564.5 98.5h4M566.5 96.5v4M564.5 98.5h4M566.5 96.5v4M564.5 98.5h4M566.5 96.5v4M564.5 98.5h4M566.5 96.5v4M564.5 97.5h4M566.5 95.5v4M565.5 97.5h4M567.5 95.5v4M565.5 97.5h4M567.5 95.5v4M565.5 97.5h4M567.5 95.5v4M565.5 97.5h4M567.5 95.5v4M566.5 97.5h4M568.5 95.5v4M566.5 97.5h4M568.5 95.5v4M566.5 97.5h4M568.5 95.5v4M566.5 97.5h4M568.5 95.5v4M567.5 97.5h4M569.5 95.5v4M567.5 96.5h4M569.5 94.5v4M567.5 96.5h4M569.5 94.5v4M567.5 96.5h4M569.5 94.5v4M568.5 96.5h4M570.5 94.5v4M568.5 96.5h4M570.5 94.5v4M568.5 96.5h4M570.5 94.5v4M568.5 96.5h4M570.5 94.5v4M569.5 96.5h4M571.5 94.5v4M569.5 95.5h4M571.5 93.5v4M569.5 95.5h4M571.5 93.5v4M570.5 95.5h4M572.5 93.5v4M570.5 95.5h4M572.5 93.5v4M570.5 95.5h4M572.5 93.5v4M570.5 95.5h4M572.5 93.5v4M571.5 95.5h4M573.5 93.5v4M571.5 95.5h4M573.5 93.5v4M571.5 94.5h4M573.5 92.5v4M572.5 94.5h4M574.5 92.5v4M572.5 94.5h4M574.5 92.5v4M572.5 94.5h4M574.5 92.5v4M572.5 94.5h4M574.5 92.5v4M573.5 94.5h4M575.5 92.5v4M573.5 94.5h4M575.5 92.5v4M573.5 93.5h4M575.5 91.5v4M574.5 93.5h4M576.5 91.5v4M574.5 93.5h4M576.5 91.5v4M574.5 93.5h4M576.5 91.5v4M575.5 93.5h4M577.5 91.5v4M575.5 93.5h4M577.5 91.5v4M575.5 93.5h4M577.5 91.5v4M576.5 92.5h4M578.5 90.5v4M576.5 92.5h4M578.5 90.5v4M576.5 92.5h4M578.5 90.5v4M577.5 92.5h4M579.5 90.5v4M577.5 92.5h4M579.5 90.5v4M578.5 92.5h4M580.5 90.5v4M578.5 91.5h4M580.5 89.5v4M578.5 91.5h4M580.5 89.5v4M579.5 91.5h4M581.5 89.5v4M579.5 91.5h4M581.5 89.5v4M580.5 90.5h4M582.5 88.5v4M580.5 90.5h4M582.5 88.5v4M581.5 90.5h4M583.5 88.5v4M581.5 89.5h4M583.5 87.5v4M582.5 89.5h4M584.5 87.5v4M582.5 89.5h4M584.5 87.5v4M583.5 88.5h4M585.5 86.5v4M583.5 88.5h4M585.5 86.5v4M584.5 87.5h4M586.5 85.5v4M584.5 87.5h4M586.5 85.5v4M585.5 86.5h4M587.5 84.5v4M586.5 86.5h4M588.5 84.5v4M586.5 85.5h4M588.5 83.5v4M587.5 85.5h4M589.5 83.5v4M588.5 84.5h4M590.5 82.5v4M588.5 84.5h4M590.5 82.5v4M589.5 83.5h4M591.5 81.5v4M590.5 83.5h4M592.5 81.5v4M591.5 82.5h4M593.5 80.5v4M592.5 81.5h4M594.5 79.5v4M593.5 80.5h4M595.5 78.5v4M594.5 79.5h4M596.5 77.5v4M596.5 78.5h4M598.5 76.5v4M597.5 77.5h4M599.5 75.5v4M599.5 76.5h4M601.5 74.5v4M601.5 74.5h4M603.5 72.5v4M604.5 71.5h4M606.5 69.5v4M608.5 65.5h4M610.5 63.5v4M617.5 54.5h4M619.5 52.5v4" stroke="#2a2acc" stroke-width="0.85" fill="none"/>
<rect x="466.5" y="54.5" width="171.3" height="95" fill="none" stroke="#555" stroke-width="1"/>
<line x1="510.5" y1="303" x2="510.5" y2="209" stroke="#bbb" stroke-width="1" stroke-dasharray="1 4" stroke-dashoffset="-1"/>
<line x1="555.5" y1="303" x2="555.5" y2="209" stroke="#bbb" stroke-width="1" stroke-dasharray="1 4" stroke-dashoffset="-1"/>
<line x1="601.5" y1="303" x2="601.5" y2="209" stroke="#bbb" stroke-width="1" stroke-dasharray="1 4" stroke-dashoffset="-1"/>
<line x1="467" y1="279.5" x2="637" y2="279.5" stroke="#bbb" stroke-width="1" stroke-dasharray="1 4" stroke-dashoffset="-1"/>
<line x1="467" y1="253.5" x2="637" y2="253.5" stroke="#bbb" stroke-width="1" stroke-dasharray="1 4" stroke-dashoffset="-1"/>
<line x1="467" y1="227.5" x2="637" y2="227.5" stroke="#bbb" stroke-width="1" stroke-dasharray="1 4" stroke-dashoffset="-1"/>
<path d="M510.5 303.5v-3M510.5 208.5v3M555.5 303.5v-3M555.5 208.5v3M601.5 303.5v-3M601.5 208.5v3M466.5 279.5h3M637.8 279.5h-3M466.5 253.5h3M637.8 253.5h-3M466.5 227.5h3M637.8 227.5h-3" stroke="#555" stroke-width="1" fill="none"/>
<text x="510.24" y="317.9" font-size="12" text-anchor="middle" font-weight="bold" >0.5</text>
<text x="502.74" y="317.9" font-size="12" text-anchor="end" font-weight="bold" >−</text>
<text x="555.79" y="317.9" font-size="12" text-anchor="middle" font-weight="bold" >0</text>
<text x="601.35" y="317.9" font-size="12" text-anchor="middle" font-weight="bold" >0.5</text>
<text x="462.5" y="283.46" font-size="12" text-anchor="end" font-weight="bold" >−0.5</text>
<text x="462.5" y="257.84" font-size="12" text-anchor="end" font-weight="bold" >0</text>
<text x="462.5" y="232.22" font-size="12" text-anchor="end" font-weight="bold" >0.5</text>
<line x1="466.5" y1="303.5" x2="637.8" y2="208.5" stroke="#ee3333" stroke-width="1" stroke-dasharray="6 6" clip-path="url(#cr1)"/>
<path d="M467.5 302.5h4M469.5 300.5v4M479.5 295.5h4M481.5 293.5v4M485.5 292.5h4M487.5 290.5v4M489.5 290.5h4M491.5 288.5v4M493.5 288.5h4M495.5 286.5v4M496.5 286.5h4M498.5 284.5v4M498.5 285.5h4M500.5 283.5v4M500.5 284.5h4M502.5 282.5v4M502.5 282.5h4M504.5 280.5v4M504.5 281.5h4M506.5 279.5v4M506.5 280.5h4M508.5 278.5v4M507.5 280.5h4M509.5 278.5v4M508.5 279.5h4M510.5 277.5v4M510.5 278.5h4M512.5 276.5v4M511.5 277.5h4M513.5 275.5v4M512.5 276.5h4M514.5 274.5v4M513.5 276.5h4M515.5 274.5v4M514.5 275.5h4M516.5 273.5v4M515.5 275.5h4M517.5 273.5v4M516.5 274.5h4M518.5 272.5v4M517.5 273.5h4M519.5 271.5v4M518.5 273.5h4M520.5 271.5v4M519.5 272.5h4M521.5 270.5v4M520.5 272.5h4M522.5 270.5v4M521.5 271.5h4M523.5 269.5v4M522.5 271.5h4M524.5 269.5v4M523.5 271.5h4M525.5 269.5v4M523.5 270.5h4M525.5 268.5v4M524.5 270.5h4M526.5 268.5v4M525.5 269.5h4M527.5 267.5v4M526.5 269.5h4M528.5 267.5v4M526.5 269.5h4M528.5 267.5v4M527.5 268.5h4M529.5 266.5v4M528.5 268.5h4M530.5 266.5v4M529.5 268.5h4M531.5 266.5v4M529.5 267.5h4M531.5 265.5v4M530.5 267.5h4M532.5 265.5v4M531.5 267.5h4M533.5 265.5v4M531.5 266.5h4M533.5 264.5v4M532.5 266.5h4M534.5 264.5v4M533.5 266.5h4M535.5 264.5v4M533.5 265.5h4M535.5 263.5v4M534.5 265.5h4M536.5 263.5v4M534.5 265.5h4M536.5 263.5v4M535.5 264.5h4M537.5 262.5v4M536.5 264.5h4M538.5 262.5v4M536.5 264.5h4M538.5 262.5v4M537.5 263.5h4M539.5 261.5v4M537.5 263.5h4M539.5 261.5v4M538.5 263.5h4M540.5 261.5v4M538.5 263.5h4M540.5 261.5v4M539.5 262.5h4M541.5 260.5v4M540.5 262.5h4M542.5 260.5v4M540.5 262.5h4M542.5 260.5v4M541.5 261.5h4M543.5 259.5v4M541.5 261.5h4M543.5 259.5v4M542.5 261.5h4M544.5 259.5v4M542.5 260.5h4M544.5 258.5v4M543.5 260.5h4M545.5 258.5v4M543.5 260.5h4M545.5 258.5v4M544.5 259.5h4M546.5 257.5v4M545.5 259.5h4M547.5 257.5v4M545.5 259.5h4M547.5 257.5v4M546.5 259.5h4M548.5 257.5v4M546.5 258.5h4M548.5 256.5v4M547.5 258.5h4M549.5 256.5v4M547.5 258.5h4M549.5 256.5v4M548.5 257.5h4M550.5 255.5v4M548.5 257.5h4M550.5 255.5v4M549.5 257.5h4M551.5 255.5v4M549.5 256.5h4M551.5 254.5v4M550.5 256.5h4M552.5 254.5v4M550.5 256.5h4M552.5 254.5v4M551.5 255.5h4M553.5 253.5v4M551.5 255.5h4M553.5 253.5v4M552.5 255.5h4M554.5 253.5v4M552.5 254.5h4M554.5 252.5v4M553.5 254.5h4M555.5 252.5v4M553.5 254.5h4M555.5 252.5v4M554.5 254.5h4M556.5 252.5v4M555.5 253.5h4M557.5 251.5v4M555.5 253.5h4M557.5 251.5v4M556.5 253.5h4M558.5 251.5v4M556.5 252.5h4M558.5 250.5v4M557.5 252.5h4M559.5 250.5v4M557.5 252.5h4M559.5 250.5v4M558.5 251.5h4M560.5 249.5v4M558.5 251.5h4M560.5 249.5v4M559.5 251.5h4M561.5 249.5v4M559.5 250.5h4M561.5 248.5v4M560.5 250.5h4M562.5 248.5v4M560.5 250.5h4M562.5 248.5v4M561.5 249.5h4M563.5 247.5v4M561.5 249.5h4M563.5 247.5v4M562.5 249.5h4M564.5 247.5v4M563.5 248.5h4M565.5 246.5v4M563.5 248.5h4M565.5 246.5v4M564.5 248.5h4M566.5 246.5v4M564.5 247.5h4M566.5 245.5v4M565.5 247.5h4M567.5 245.5v4M565.5 247.5h4M567.5 245.5v4M566.5 247.5h4M568.5 245.5v4M567.5 246.5h4M569.5 244.5v4M567.5 246.5h4M569.5 244.5v4M568.5 246.5h4M570.5 244.5v4M568.5 245.5h4M570.5 243.5v4M569.5 245.5h4M571.5 243.5v4M570.5 245.5h4M572.5 243.5v4M570.5 244.5h4M572.5 242.5v4M571.5 244.5h4M573.5 242.5v4M571.5 244.5h4M573.5 242.5v4M572.5 243.5h4M574.5 241.5v4M573.5 243.5h4M575.5 241.5v4M573.5 243.5h4M575.5 241.5v4M574.5 242.5h4M576.5 240.5v4M575.5 242.5h4M577.5 240.5v4M575.5 242.5h4M577.5 240.5v4M576.5 241.5h4M578.5 239.5v4M577.5 241.5h4M579.5 239.5v4M578.5 241.5h4M580.5 239.5v4M578.5 240.5h4M580.5 238.5v4M579.5 240.5h4M581.5 238.5v4M580.5 239.5h4M582.5 237.5v4M581.5 239.5h4M583.5 237.5v4M581.5 239.5h4M583.5 237.5v4M582.5 238.5h4M584.5 236.5v4M583.5 238.5h4M585.5 236.5v4M584.5 237.5h4M586.5 235.5v4M585.5 237.5h4M587.5 235.5v4M586.5 236.5h4M588.5 234.5v4M587.5 236.5h4M589.5 234.5v4M588.5 235.5h4M590.5 233.5v4M589.5 235.5h4M591.5 233.5v4M590.5 234.5h4M592.5 232.5v4M591.5 233.5h4M593.5 231.5v4M592.5 233.5h4M594.5 231.5v4M594.5 232.5h4M596.5 230.5v4M595.5 231.5h4M597.5 229.5v4M596.5 230.5h4M598.5 228.5v4M598.5 229.5h4M600.5 227.5v4M599.5 229.5h4M601.5 227.5v4M601.5 227.5h4M603.5 225.5v4M603.5 226.5h4M605.5 224.5v4M605.5 225.5h4M607.5 223.5v4M608.5 224.5h4M610.5 222.5v4M610.5 222.5h4M612.5 220.5v4M614.5 220.5h4M616.5 218.5v4M618.5 218.5h4M620.5 216.5v4M624.5 215.5h4M626.5 213.5v4M636.5 209.5h4M638.5 207.5v4" stroke="#2a2acc" stroke-width="0.85" fill="none"/>
<rect x="466.5" y="208.5" width="171.3" height="95" fill="none" stroke="#555" stroke-width="1"/>
<line x1="469.5" y1="457" x2="469.5" y2="363" stroke="#bbb" stroke-width="1" stroke-dasharray="1 4" stroke-dashoffset="-1"/>
<line x1="510.5" y1="457" x2="510.5" y2="363" stroke="#bbb" stroke-width="1" stroke-dasharray="1 4" stroke-dashoffset="-1"/>
<line x1="551.5" y1="457" x2="551.5" y2="363" stroke="#bbb" stroke-width="1" stroke-dasharray="1 4" stroke-dashoffset="-1"/>
<line x1="592.5" y1="457" x2="592.5" y2="363" stroke="#bbb" stroke-width="1" stroke-dasharray="1 4" stroke-dashoffset="-1"/>
<line x1="633.5" y1="457" x2="633.5" y2="363" stroke="#bbb" stroke-width="1" stroke-dasharray="1 4" stroke-dashoffset="-1"/>
<line x1="467" y1="455.5" x2="637" y2="455.5" stroke="#bbb" stroke-width="1" stroke-dasharray="1 4" stroke-dashoffset="-1"/>
<line x1="467" y1="432.5" x2="637" y2="432.5" stroke="#bbb" stroke-width="1" stroke-dasharray="1 4" stroke-dashoffset="-1"/>
<line x1="467" y1="410.5" x2="637" y2="410.5" stroke="#bbb" stroke-width="1" stroke-dasharray="1 4" stroke-dashoffset="-1"/>
<line x1="467" y1="388.5" x2="637" y2="388.5" stroke="#bbb" stroke-width="1" stroke-dasharray="1 4" stroke-dashoffset="-1"/>
<line x1="467" y1="365.5" x2="637" y2="365.5" stroke="#bbb" stroke-width="1" stroke-dasharray="1 4" stroke-dashoffset="-1"/>
<path d="M469.5 457.5v-3M469.5 362.5v3M510.5 457.5v-3M510.5 362.5v3M551.5 457.5v-3M551.5 362.5v3M592.5 457.5v-3M592.5 362.5v3M633.5 457.5v-3M633.5 362.5v3M466.5 455.5h3M637.8 455.5h-3M466.5 432.5h3M637.8 432.5h-3M466.5 410.5h3M637.8 410.5h-3M466.5 388.5h3M637.8 388.5h-3M466.5 365.5h3M637.8 365.5h-3" stroke="#555" stroke-width="1" fill="none"/>
<text x="469.77" y="471.9" font-size="12" text-anchor="middle" font-weight="bold" >0.4</text>
<text x="462.27" y="471.9" font-size="12" text-anchor="end" font-weight="bold" >−</text>
<text x="510.71" y="471.9" font-size="12" text-anchor="middle" font-weight="bold" >0.2</text>
<text x="503.21" y="471.9" font-size="12" text-anchor="end" font-weight="bold" >−</text>
<text x="551.64" y="471.9" font-size="12" text-anchor="middle" font-weight="bold" >0</text>
<text x="592.57" y="471.9" font-size="12" text-anchor="middle" font-weight="bold" >0.2</text>
<text x="633.5" y="471.9" font-size="12" text-anchor="middle" font-weight="bold" >0.4</text>
<text x="462.5" y="459.66" font-size="12" text-anchor="end" font-weight="bold" >−0.4</text>
<text x="462.5" y="437.28" font-size="12" text-anchor="end" font-weight="bold" >−0.2</text>
<text x="462.5" y="414.9" font-size="12" text-anchor="end" font-weight="bold" >0</text>
<text x="462.5" y="392.52" font-size="12" text-anchor="end" font-weight="bold" >0.2</text>
<text x="462.5" y="370.14" font-size="12" text-anchor="end" font-weight="bold" >0.4</text>
<line x1="466.5" y1="457.5" x2="637.8" y2="362.5" stroke="#ee3333" stroke-width="1" stroke-dasharray="6 6" clip-path="url(#cr2)"/>
<path d="M469.5 455.5h4M471.5 453.5v4M481.5 446.5h4M483.5 444.5v4M487.5 444.5h4M489.5 442.5v4M491.5 442.5h4M493.5 440.5v4M494.5 440.5h4M496.5 438.5v4M497.5 439.5h4M499.5 437.5v4M499.5 438.5h4M501.5 436.5v4M501.5 436.5h4M503.5 434.5v4M503.5 435.5h4M505.5 433.5v4M504.5 434.5h4M506.5 432.5v4M506.5 433.5h4M508.5 431.5v4M507.5 433.5h4M509.5 431.5v4M509.5 432.5h4M511.5 430.5v4M510.5 431.5h4M512.5 429.5v4M511.5 430.5h4M513.5 428.5v4M512.5 430.5h4M514.5 428.5v4M513.5 429.5h4M515.5 427.5v4M514.5 429.5h4M516.5 427.5v4M515.5 428.5h4M517.5 426.5v4M516.5 428.5h4M518.5 426.5v4M517.5 427.5h4M519.5 425.5v4M518.5 427.5h4M520.5 425.5v4M519.5 426.5h4M521.5 424.5v4M520.5 426.5h4M522.5 424.5v4M520.5 425.5h4M522.5 423.5v4M521.5 425.5h4M523.5 423.5v4M522.5 425.5h4M524.5 423.5v4M523.5 424.5h4M525.5 422.5v4M523.5 424.5h4M525.5 422.5v4M524.5 424.5h4M526.5 422.5v4M525.5 423.5h4M527.5 421.5v4M525.5 423.5h4M527.5 421.5v4M526.5 423.5h4M528.5 421.5v4M527.5 422.5h4M529.5 420.5v4M527.5 422.5h4M529.5 420.5v4M528.5 422.5h4M530.5 420.5v4M529.5 421.5h4M531.5 419.5v4M529.5 421.5h4M531.5 419.5v4M530.5 421.5h4M532.5 419.5v4M531.5 420.5h4M533.5 418.5v4M531.5 420.5h4M533.5 418.5v4M532.5 420.5h4M534.5 418.5v4M532.5 420.5h4M534.5 418.5v4M533.5 419.5h4M535.5 417.5v4M533.5 419.5h4M535.5 417.5v4M534.5 419.5h4M536.5 417.5v4M535.5 419.5h4M537.5 417.5v4M535.5 418.5h4M537.5 416.5v4M536.5 418.5h4M538.5 416.5v4M536.5 418.5h4M538.5 416.5v4M537.5 417.5h4M539.5 415.5v4M537.5 417.5h4M539.5 415.5v4M538.5 417.5h4M540.5 415.5v4M538.5 417.5h4M540.5 415.5v4M539.5 416.5h4M541.5 414.5v4M539.5 416.5h4M541.5 414.5v4M540.5 416.5h4M542.5 414.5v4M540.5 416.5h4M542.5 414.5v4M541.5 415.5h4M543.5 413.5v4M541.5 415.5h4M543.5 413.5v4M542.5 415.5h4M544.5 413.5v4M542.5 414.5h4M544.5 412.5v4M543.5 414.5h4M545.5 412.5v4M543.5 414.5h4M545.5 412.5v4M544.5 414.5h4M546.5 412.5v4M544.5 413.5h4M546.5 411.5v4M545.5 413.5h4M547.5 411.5v4M545.5 413.5h4M547.5 411.5v4M546.5 412.5h4M548.5 410.5v4M546.5 412.5h4M548.5 410.5v4M547.5 412.5h4M549.5 410.5v4M547.5 411.5h4M549.5 409.5v4M548.5 411.5h4M550.5 409.5v4M548.5 411.5h4M550.5 409.5v4M549.5 411.5h4M551.5 409.5v4M549.5 410.5h4M551.5 408.5v4M550.5 410.5h4M552.5 408.5v4M550.5 410.5h4M552.5 408.5v4M551.5 409.5h4M553.5 407.5v4M551.5 409.5h4M553.5 407.5v4M552.5 409.5h4M554.5 407.5v4M552.5 409.5h4M554.5 407.5v4M553.5 408.5h4M555.5 406.5v4M553.5 408.5h4M555.5 406.5v4M554.5 408.5h4M556.5 406.5v4M554.5 407.5h4M556.5 405.5v4M555.5 407.5h4M557.5 405.5v4M555.5 407.5h4M557.5 405.5v4M556.5 407.5h4M558.5 405.5v4M556.5 406.5h4M558.5 404.5v4M557.5 406.5h4M559.5 404.5v4M557.5 406.5h4M559.5 404.5v4M558.5 405.5h4M560.5 403.5v4M558.5 405.5h4M560.5 403.5v4M559.5 405.5h4M561.5 403.5v4M559.5 405.5h4M561.5 403.5v4M560.5 404.5h4M562.5 402.5v4M560.5 404.5h4M562.5 402.5v4M561.5 404.5h4M563.5 402.5v4M562.5 403.5h4M564.5 401.5v4M562.5 403.5h4M564.5 401.5v4M563.5 403.5h4M565.5 401.5v4M563.5 403.5h4M565.5 401.5v4M564.5 402.5h4M566.5 400.5v4M564.5 402.5h4M566.5 400.5v4M565.5 402.5h4M567.5 400.5v4M565.5 402.5h4M567.5 400.5v4M566.5 401.5h4M568.5 399.5v4M567.5 401.5h4M569.5 399.5v4M567.5 401.5h4M569.5 399.5v4M568.5 400.5h4M570.5 398.5v4M568.5 400.5h4M570.5 398.5v4M569.5 400.5h4M571.5 398.5v4M570.5 400.5h4M572.5 398.5v4M570.5 399.5h4M572.5 397.5v4M571.5 399.5h4M573.5 397.5v4M571.5 399.5h4M573.5 397.5v4M572.5 398.5h4M574.5 396.5v4M573.5 398.5h4M575.5 396.5v4M574.5 398.5h4M576.5 396.5v4M574.5 397.5h4M576.5 395.5v4M575.5 397.5h4M577.5 395.5v4M576.5 397.5h4M578.5 395.5v4M576.5 396.5h4M578.5 394.5v4M577.5 396.5h4M579.5 394.5v4M578.5 396.5h4M580.5 394.5v4M579.5 395.5h4M581.5 393.5v4M580.5 395.5h4M582.5 393.5v4M580.5 394.5h4M582.5 392.5v4M581.5 394.5h4M583.5 392.5v4M582.5 393.5h4M584.5 391.5v4M583.5 393.5h4M585.5 391.5v4M584.5 392.5h4M586.5 390.5v4M585.5 392.5h4M587.5 390.5v4M586.5 391.5h4M588.5 389.5v4M587.5 390.5h4M589.5 388.5v4M589.5 390.5h4M591.5 388.5v4M590.5 389.5h4M592.5 387.5v4M591.5 388.5h4M593.5 386.5v4M592.5 387.5h4M594.5 385.5v4M594.5 387.5h4M596.5 385.5v4M596.5 386.5h4M598.5 384.5v4M597.5 385.5h4M599.5 383.5v4M599.5 383.5h4M601.5 381.5v4M602.5 382.5h4M604.5 380.5v4M604.5 381.5h4M606.5 379.5v4M608.5 379.5h4M610.5 377.5v4M612.5 377.5h4M614.5 375.5v4M617.5 374.5h4M619.5 372.5v4M629.5 362.5h4M631.5 360.5v4" stroke="#2a2acc" stroke-width="0.85" fill="none"/>
<rect x="466.5" y="362.5" width="171.3" height="95" fill="none" stroke="#555" stroke-width="1"/>
<rect x="302.5" y="60.5" width="90" height="34" fill="#fff" stroke="#555" stroke-width="1"/>
<line x1="309" y1="69.8" x2="340.6" y2="69.8" stroke="#0000ff" stroke-width="2.3"/>
<line x1="309" y1="85" x2="340.6" y2="85" stroke="#ff0000" stroke-width="2.3" stroke-dasharray="6 6.7"/>
<text x="344.6" y="74.3" font-size="12.5" text-anchor="start" font-weight="bold" >Empiric</text>
<text x="344.6" y="90" font-size="12.5" text-anchor="start" font-weight="bold" >Fit</text>
<text x="243.3" y="39" font-size="13" text-anchor="middle" font-weight="bold">(a), All intensities, p<tspan font-size="9" dy="6">ks</tspan><tspan dy="-6">=0</tspan></text>
<text x="243.3" y="193" font-size="13" text-anchor="middle" font-weight="bold">(b), 5.75 &lt; I &lt; 6.25, p<tspan font-size="9" dy="6">ks</tspan><tspan dy="-6">=0.87052</tspan></text>
<text x="243.3" y="347" font-size="13" text-anchor="middle" font-weight="bold">(c), 8.75 &lt; I &lt; 9.25, p<tspan font-size="9" dy="6">ks</tspan><tspan dy="-6">=0.15398</tspan></text>
<text x="552" y="43.5" font-size="13" text-anchor="middle" font-weight="bold"><tspan font-weight="normal">ρ</tspan>=0.96762</text>
<text x="552" y="197.5" font-size="13" text-anchor="middle" font-weight="bold"><tspan font-weight="normal">ρ</tspan>=0.99942</text>
<text x="552" y="351.5" font-size="13" text-anchor="middle" font-weight="bold"><tspan font-weight="normal">ρ</tspan>=0.99825</text>
<text x="243.7" y="488.2" font-size="15" text-anchor="middle" font-weight="bold" >repeat1 − repeat2</text>
<text x="552.3" y="488.2" font-size="15" text-anchor="middle" font-weight="bold" >quantile of normal</text>
<text transform="translate(71,256) rotate(-90)" font-size="14.8" text-anchor="middle" font-weight="bold">Probability Density</text>
<text transform="translate(431,256) rotate(-90)" font-size="14.8" text-anchor="middle" font-weight="bold">quantile of data</text>
</svg></body></html>
